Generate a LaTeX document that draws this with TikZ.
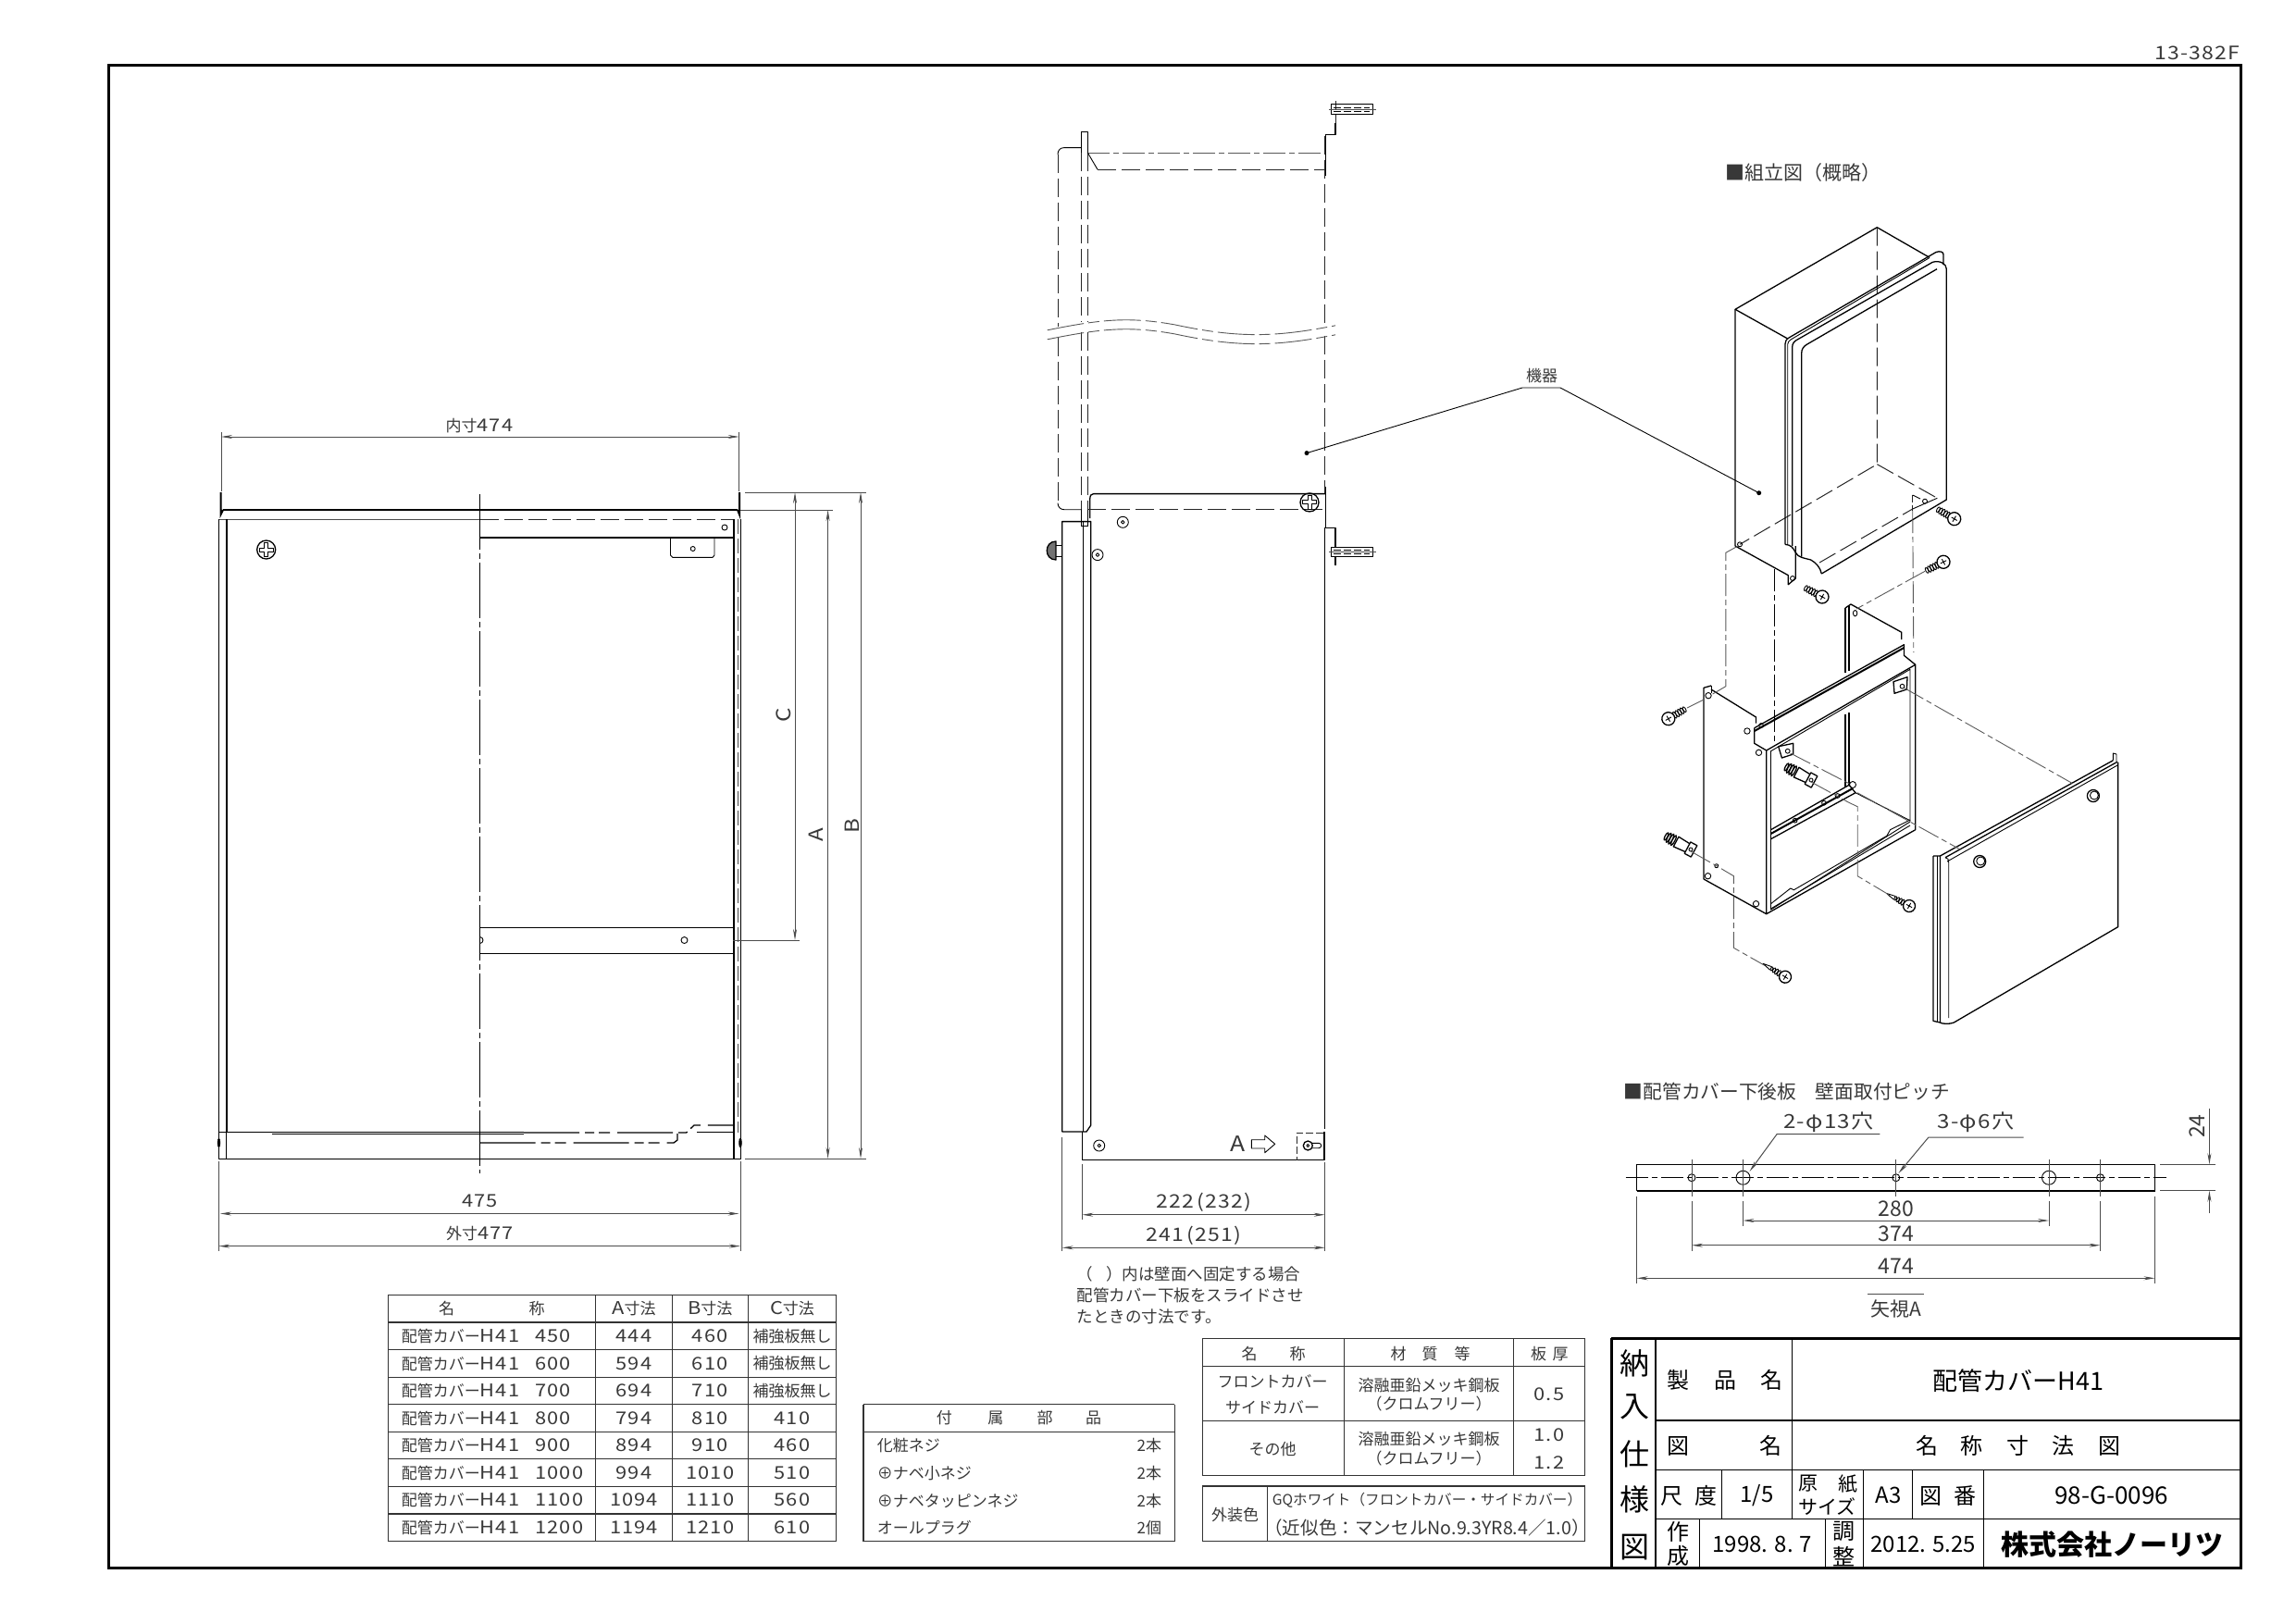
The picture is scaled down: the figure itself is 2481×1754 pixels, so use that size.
\documentclass[tikz,border=0pt]{standalone}
\usepackage{fontspec}
\setmainfont{Noto Sans CJK JP}
\newfontfamily\cadnum[FakeStretch=1.15,LetterSpace=6]{Noto Sans CJK JP}
\usepackage{xcolor}
\usetikzlibrary{arrows.meta}

\definecolor{dimgray}{gray}{0.3}
\definecolor{axisgray}{gray}{0.35}
\definecolor{textgray}{gray}{0.22}
\newcommand{\jpt}[1]{{\normalfont\fontsize{17}{20}\selectfont #1}}

\tikzset{
	partline/.style={line width=1.3pt,line join=round},
	thinline/.style={line width=0.9pt,line join=round},
	hiddenline/.style={line width=1pt,color=black!85,dash pattern=on 20pt off 6pt},
	axisline/.style={line width=0.9pt,color=axisgray,dash pattern=on 24pt off 4pt on 6pt off 4pt},
	extline/.style={line width=0.8pt,color=dimgray},
	dimline/.style={line width=0.8pt,color=dimgray,{Stealth[length=12pt,width=4pt]}-{Stealth[length=12pt,width=4pt]}},
	gridline/.style={line width=1.1pt,color=black!80},
	frameline/.style={line width=3pt,line join=miter},
	dimtext/.style={inner sep=0.75pt,color=textgray,font=\fontsize{19}{22}\selectfont\cadnum},
	jptext/.style={inner sep=0.75pt,color=textgray,font=\fontsize{17}{20}\selectfont},
	viewtext/.style={inner sep=0.75pt,color=textgray,font=\fontsize{23}{26}\selectfont},
	blocktext/.style={inner sep=0.75pt,color=black,font=\fontsize{24}{28}\selectfont},
	sidetext/.style={inner sep=0.75pt,color=black,font=\fontsize{32}{36}\selectfont},
	screwpic/.pic={
		\draw [thinline] (8,0) ellipse (1.4 and 3.8) (11,0) ellipse (1.4 and 3.8) (14,0) ellipse (1.4 and 3.8) (17,0) ellipse (1.4 and 3.6) (20,0) ellipse (1.4 and 3.2);
		\draw [partline,fill=white] (0,0) circle (7);
		\draw [thinline] (-3.5,0) -- (3.5,0) (0,-3.5) -- (0,3.5);
	},
	tappic/.pic={
		\draw [thinline] (8,0) ellipse (1.3 and 3.4) (11,0) ellipse (1.3 and 3.2) (14,0) ellipse (1.2 and 2.8) (17,0) ellipse (1.1 and 2.2);
		\draw [thinline] (18,-2) -- (28,0) -- (18,2);
		\draw [partline,fill=white] (0,0) circle (6.5);
		\draw [thinline] (-3.5,0) -- (3.5,0) (0,-3.5) -- (0,3.5);
	},
	plugpic/.pic={
		\draw [partline] (-4,-7) -- (4,-7) -- (4,7) -- (-4,7) -- cycle;
		\draw [thinline] (0,0) circle (2);
		\draw [partline] (4,-5) -- (18,-6) -- (18,6) -- (4,5);
		\draw [partline] (21,0) ellipse (1.4 and 6) (24,0) ellipse (1.4 and 6) (27,0) ellipse (1.4 and 5.5) (30,0) ellipse (1.4 and 4.5);
	},
	knobpic/.pic={
		\draw [partline] (0,0) circle (6.5);
		\draw [thinline] (1,0.5) circle (4.5);
	},
	crosspic/.pic={
		\draw [partline] (0,0) circle (10);
		\draw [thinline] (-2,-2) -- (-2,-7.5) -- (2,-7.5) -- (2,-2) -- (7.5,-2) -- (7.5,2) -- (2,2) -- (2,7.5) -- (-2,7.5) -- (-2,2) -- (-7.5,2) -- (-7.5,-2) -- cycle;
	},
	seatpic/.pic={
		\draw [thinline] (0,0) circle (6);
		\draw [thinline] (0,0) circle (1.8);
	},
}

\begin{document}
\begin{tikzpicture}[x=1pt,y=1pt,yscale=-1,xscale=1]
		\useasboundingbox (0,0) rectangle (2481,1754);
		
		%Shape: Frame
		\draw [frameline] (117,70) rectangle (2421,1694);
		\draw (2421,57) node (drawingCode) [dimtext,anchor=east,font=\fontsize{20}{22}\selectfont\cadnum] {13-382F};
		
		%Left view: outer panel
		\draw [extline] (236.4,561.5) -- (518.5,561.5);
		\draw [partline] (241,551) -- (797,551);
		\draw [line width=2pt] (238.5,532) -- (238.5,556) -- (241,551);
		\draw [line width=2pt] (799,532) -- (799,556) -- (797,551);
		\draw [thinline] (236.4,561) -- (236.4,1252) -- (800,1252) -- (800,561);
		\draw [line width=2pt] (244.6,561) -- (244.6,1224);
		\draw [thinline] (244,1224) -- (244,1252);
		\draw [line width=2pt] (792.5,561) -- (792.5,1252);
		\draw [extline,dash pattern=on 16pt off 5pt] (797,561) -- (797,1224);
		\draw [partline] (236.4,1223.3) -- (566,1223.3);
		\draw [partline] (294,1225.5) -- (566,1225.5);
		\draw [partline,dash pattern=on 60pt off 6pt on 10pt off 5pt on 12pt off 8pt] (566,1224) -- (741.6,1224) -- (750,1216) -- (792,1216);
		\draw [thinline] (753,1223.3) -- (792,1223.3);
		\draw [partline,dash pattern=on 60pt off 6pt on 10pt off 5pt on 12pt off 8pt] (518.5,1235) -- (728,1235) -- (732,1232) -- (732,1225);
		\draw [fill=black] (236.5,1235) ellipse (1.5 and 5) (800,1235) ellipse (1.5 and 5);
		\draw [hiddenline] (518.5,561) -- (792,561);
		\draw [line width=2pt] (518.5,581) -- (792,581);
		\draw [thinline] (724.5,581) -- (724.5,600) -- (727,602.4) -- (770,602.4) -- (772,600) -- (772,581);
		\draw [thinline] (748.7,593) circle (2.5) (783,570) circle (3);
		\draw [thinline] (518.5,1002) -- (792,1002) (518.5,1030) -- (792,1030);
		\draw [thinline] (739.5,1016) circle (3.5);
		\draw [thinline] (518.5,1012.5) arc (-90:90:3.5);
		\draw [axisline,color=black,dash pattern=on 60pt off 4pt on 6pt off 4pt] (518.5,534) -- (518.5,1268);
		\pic at (287.7,594) {crosspic};
		
		%Left view: dimensions
		\draw [extline] (239,467) -- (239,531) (798.6,467) -- (798.6,531);
		\draw [dimline] (239,472) -- (798.6,472);
		\draw (518,460) node (dimInner) [dimtext] {\jpt{内寸}474};
		\draw [extline] (805,532) -- (936,532) (800,551) -- (900,551) (805,1252) -- (936,1252) (792,1016) -- (864,1016);
		\draw [dimline] (859,532) -- (859,1016);
		\draw [dimline] (894.6,551) -- (894.6,1252);
		\draw [dimline] (930,532) -- (930,1252);
		\draw (847,773) node (dimC) [dimtext,rotate=90,font=\fontsize{21}{24}\selectfont\cadnum] {C};
		\draw (882,902) node (dimA) [dimtext,rotate=90,font=\fontsize{21}{24}\selectfont\cadnum] {A};
		\draw (921,893) node (dimB) [dimtext,rotate=90,font=\fontsize{21}{24}\selectfont\cadnum] {B};
		\draw [extline] (236.4,1255) -- (236.4,1352) (800,1255) -- (800,1352);
		\draw [dimline] (238,1311.5) -- (798.6,1311.5);
		\draw [dimline] (236.4,1346.6) -- (800,1346.6);
		\draw (518.5,1298) node (dimMid) [dimtext] {475};
		\draw (518.5,1333) node (dimOuter) [dimtext] {\jpt{外寸}477};
		
		%Side view: upper part
		\draw [thinline] (1168.3,165) -- (1168.3,142.5) -- (1175.3,142.5) -- (1175.3,165);
		\draw [hiddenline] (1168.3,165) -- (1168.3,348) (1175.3,165) -- (1175.3,348);
		\draw [hiddenline] (1168.3,358.6) -- (1168.3,550) (1175.3,358.6) -- (1175.3,550);
		\draw [thinline] (1168.3,550) -- (1168.3,568.6) (1175.3,550) -- (1175.3,568.6);
		\draw [thinline] (1168,159.6) -- (1150,159.6) .. controls (1146,159.6) and (1143,162) .. (1143,166.8);
		\draw [hiddenline] (1143,166.8) -- (1143,352.5) (1143,365) -- (1143,543.6);
		\draw [thinline] (1143,543.6) .. controls (1143,548) and (1146,550.7) .. (1150,550.7) -- (1168,550.7);
		\draw [axisline] (1175.3,165) -- (1431.7,165);
		\draw [thinline] (1175.3,165) -- (1186,183.2);
		\draw [hiddenline] (1186,183.2) -- (1431.7,183.2);
		\draw [hiddenline] (1431.7,147) -- (1431.7,352.5) (1431.7,363) -- (1431.7,533);
		\draw [partline] (1432.5,190) -- (1432.5,145.4) -- (1443,145.4) -- (1443,133);
		\draw [hiddenline,dash pattern=on 10pt off 4pt] (1443,133) -- (1443,106);
		\draw [thinline] (1438,112.5) rectangle (1483,123.2);
		\draw [thinline,dash pattern=on 8pt off 3pt] (1441,116) -- (1480,116) (1441,120) -- (1480,120);
		\draw [extline] (1436,117.9) -- (1487,117.9);
		
		%Side view: break lines
		\draw [axisline,dash pattern=on 40pt off 5pt on 12pt off 5pt] (1131.7,356.8) .. controls (1190,345) and (1220,342) .. (1270,351) .. controls (1340,366) and (1380,364) .. (1443,351.8);
		\draw [axisline,dash pattern=on 40pt off 5pt on 12pt off 5pt] (1131.7,366.8) .. controls (1190,355) and (1220,352) .. (1270,361) .. controls (1340,376) and (1380,374) .. (1443,361.8);
		
		%Side view: lower part
		\draw [partline] (1177.7,560) -- (1177.7,540) .. controls (1177.7,535.5) and (1179,533.6) .. (1181.7,533.6) -- (1432,533.6);
		\draw [hiddenline] (1175,550.7) -- (1431.7,550.7);
		\draw [partline] (1432.5,525.7) -- (1432.5,570.4) -- (1443,570.4) -- (1443,592);
		\draw [partline] (1443,600) -- (1443,610.7);
		\draw [thinline,fill=white] (1438,591) rectangle (1483,601.7);
		\draw [thinline,dash pattern=on 8pt off 3pt] (1441,594.5) -- (1480,594.5) (1441,598.5) -- (1480,598.5);
		\draw [extline] (1436,596.4) -- (1487,596.4);
		\pic at (1415,542.9) {crosspic};
		\pic at (1213.3,564.3) {seatpic};
		\pic at (1186,599.6) {seatpic};
		\draw [partline] (1431.7,570) -- (1431.7,1220);
		\draw [partline] (1147.7,1223) -- (1147.7,563.6) -- (1178.7,563.6) -- (1178.7,1216) -- (1174,1223) -- (1147.7,1223);
		\draw [partline] (1170.7,563.6) -- (1170.7,1223);
		\draw [thinline] (1168.3,563) rectangle (1175.3,568.6);
		\draw [thinline] (1147,589) -- (1141,589) (1147,601) -- (1141,601);
		\draw [partline,fill=black!55] (1141,585) .. controls (1128,585) and (1128,605) .. (1141,605) -- cycle;
		\draw [partline] (1169.3,1223) -- (1169.3,1253.6) -- (1431,1253.6) -- (1431,1223);
		\pic at (1187.7,1238) {seatpic};
		\draw (1337.7,1236.3) node (viewMarkA) [dimtext,font=\fontsize{23}{26}\selectfont\cadnum] {A};
		\draw [thinline] (1352.3,1231.7) -- (1366.7,1231.7) -- (1366.7,1227) -- (1377.7,1236.3) -- (1366.7,1245.7) -- (1366.7,1241) -- (1352.3,1241) -- cycle;
		\draw [hiddenline,dash pattern=on 8pt off 3pt] (1430,1224.3) -- (1401,1224.3) -- (1401,1253.6);
		\draw [partline] (1413.3,1238) circle (5);
		\draw [thinline] (1413.3,1238) circle (1.5);
		\draw [thinline] (1418,1235.3) -- (1425,1235.3) arc (-90:90:2.7) -- (1418,1240.7);
		
		%Side view: dimensions
		\draw [extline] (1169.3,1257.6) -- (1169.3,1318) (1431.7,1256) -- (1431.7,1352) (1147.7,1229) -- (1147.7,1352);
		\draw [dimline] (1169.3,1312.7) -- (1431.7,1312.7);
		\draw [dimline] (1147.7,1348.3) -- (1431.7,1348.3);
		\draw (1301,1299) node (dimDepthIn) [dimtext,font=\fontsize{20}{22}\selectfont\cadnum] {222\hspace{3pt}(232)};
		\draw (1290,1335) node (dimDepthOut) [dimtext,font=\fontsize{20}{22}\selectfont\cadnum] {241\hspace{3pt}(251)};
		\draw (1163,1377) node (noteOne) [jptext,anchor=west,font=\fontsize{17.5}{20}\selectfont] {（\hspace{14pt}）内は壁面へ固定する場合};
		\draw (1163,1400) node (noteTwo) [jptext,anchor=west,font=\fontsize{17.5}{20}\selectfont] {配管カバー下板をスライドさせ};
		\draw (1163,1423) node (noteThree) [jptext,anchor=west,font=\fontsize{17.5}{20}\selectfont] {たときの寸法です。};
		
		%Leader of the appliance
		\coordinate (kikiSide) at (1412,489.6);
		\coordinate (kikiBox) at (1900.7,532.7);
		\coordinate (kikiLeft) at (1645,419);
		\coordinate (kikiRight) at (1686,419);
		\fill (kikiSide) circle (2.5) (kikiBox) circle (2.5);
		\draw [thinline] (kikiSide) -- (kikiLeft) -- (kikiRight) -- (kikiBox);
		\draw (1666,406) node (kikiLabel) [jptext] {機器};
		
		%Exploded view: title
		\draw (1864,186.7) node (assemblyTitle) [jptext,anchor=west,font=\fontsize{21}{24}\selectfont] {■組立図（概略）};
		
		%Exploded view: appliance box
		\draw [partline] (1931.7,366) -- (1875,334.3) -- (2028.3,245.7) -- (2085,278.3);
		\draw [partline] (1875,334.3) -- (1875,590) -- (1932.3,621.7) -- (1932.3,631.7) -- (1940.3,625) -- (1940.3,590);
		\draw [hiddenline] (2028.3,245.7) -- (2028.3,501.7) -- (1880,588.3);
		\draw [hiddenline] (2028.3,501.7) -- (2093.3,538.3);
		\draw [partline] (1929,588.3) -- (1929,371.7) .. controls (1929,369) and (1930,367) .. (1933,365) -- (2092,272.5) .. controls (2096,271) and (2100,272) .. (2100,275) -- (2100,286);
		\draw [thinline] (1931.7,588) -- (1931.7,372) .. controls (1931.7,370) and (1933,368.5) .. (1935,367) -- (2085,278.5);
		\draw [partline] (1936.7,590) -- (1936.7,375) .. controls (1936.7,371) and (1939,368.5) .. (1942.7,366.7) -- (2088.3,283.3) .. controls (2096,281) and (2103.3,285) .. (2103.3,290.7) -- (2103.3,540) -- (1968.3,620);
		\draw [partline] (1946.7,601.7) -- (1946.7,381.7) .. controls (1946.7,377) and (1949,374) .. (1953.3,371.7) -- (2093,290.7);
		\draw [partline] (1929,588.3) .. controls (1935,589) and (1937,591) .. (1940,596.7) .. controls (1943,603) and (1950,603) .. (1956.7,605) .. controls (1962,608) and (1967,613) .. (1968.3,620);
		\draw [hiddenline] (1966,608) -- (2066.7,550);
		\draw [hiddenline,dash pattern=on 8pt off 3pt] (2066.7,535) -- (2066.7,552);
		\draw [thinline] (2066.7,535) -- (2075,539) (2066.7,550) -- (2093.3,538.3);
		\draw [thinline] (1937,625) circle (2.5) (1880,588.3) circle (2.5) (2080,541.7) circle (2.5);
		\pic at (1969,645) [rotate=152] {screwpic};
		\pic at (2111.7,560.7) [rotate=150] {screwpic};
		\pic at (2100,607.3) [rotate=207] {screwpic};
		
		%Exploded view: side frame
		\draw [partline] (1849,741) -- (1841,743.3) -- (1841,950) -- (1908.7,987.7) -- (2069.7,896.7) -- (2069.7,718.3) -- (1908.7,811) -- (1908.7,987.7);
		\draw [thinline] (1849,741) -- (1849,749);
		\draw [partline] (1849,745) -- (1897.5,775) -- (1897.5,781.7);
		\draw [thinline] (1913.5,811.7) -- (1913.5,983) -- (2064,888) -- (2064,723.3) -- cycle;
		\draw [partline] (1895.7,786.7) -- (2057.4,696.7) -- (2057.4,708.3) -- (2069.7,718.3);
		\draw [partline] (1895.7,786.7) -- (1895.7,803.3) -- (1908.7,811);
		\draw [line width=2pt] (1895.7,790) -- (2057.4,700);
		\draw [partline] (1994,657) -- (2000,653) -- (2054.8,683.3) -- (2054.8,691);
		\draw [partline] (1994,657) -- (1994,727) (1998,655) -- (1998,725);
		\draw [partline] (1994,772) -- (1994,850) (1998,770) -- (1998,848.3);
		\draw [thinline] (2004.6,662.7) ellipse (2.2 and 3.2);
		\draw [partline] (1913.5,896.7) -- (1998,848.3) -- (2005,856.7) -- (1913.5,906.7);
		\draw [line width=2pt] (1913.5,901) -- (2002,852);
		\draw [thinline] (1939.6,886.7) circle (2.4) (1971,867.7) circle (2.4) (1985.6,860) circle (2.4);
		\draw [thinline] (2005,856.7) -- (2064,886.7);
		\draw [thinline] (2002,848) circle (3.5);
		\draw [thinline] (1913.5,976.7) -- (1934.7,960) -- (1938.4,961.7) -- (2038.8,903.3) -- (2042.5,896.7) -- (2064,886);
		\draw [thinline] (1913.5,982) -- (2064,892);
		\draw [partline] (2046,736.7) -- (2061,731.7) -- (2060.4,745) -- (2047,749.3) -- cycle;
		\draw [thinline] (2055.5,741.7) circle (2.4);
		\draw [partline] (1921.7,806.7) -- (1937.7,803.3) -- (1937.7,815) -- (1925.4,819) -- cycle;
		\draw [thinline] (1931.7,811.7) circle (2.4);
		\draw [thinline] (1846,751.7) circle (3.2) (1887.9,790) circle (3.2) (1900.5,813.3) circle (3.2) (1845.5,946.7) circle (3.2) (1897.5,976.7) circle (3.2) (1854.8,935.7) circle (2);
		\draw [thinline] (1903,784) circle (2.4);
		\pic at (1802.8,776.7) [rotate=30] {screwpic};
		\pic at (1957,843) [rotate=152] {plugpic};
		\pic at (1827,918) [rotate=152] {plugpic};
		\pic at (1929,1055.7) [rotate=149] {tappic};
		\pic at (2063,979) [rotate=151] {tappic};
		
		%Exploded view: front cover
		\draw [partline] (2089,925) -- (2089,1103.3) -- (2096.4,1105) -- (2096.4,925) -- (2089,925);
		\draw [thinline] (2093.5,925) -- (2093.5,1104);
		\draw [partline] (2096.4,925) -- (2283.4,821.7);
		\draw [partline] (2102,926.7) -- (2287.9,823.3);
		\draw [thinline] (2104,931) -- (2288,827);
		\draw [thinline] (2102,926.7) .. controls (2105,927) and (2105.7,929) .. (2105.7,932) -- (2105.7,1100);
		\draw [partline] (2288.6,823.5) -- (2288.6,1001.7) -- (2111.3,1105) .. controls (2107,1107) and (2098,1106.5) .. (2096.4,1105);
		\draw [thinline] (2283.4,821.7) -- (2283.4,814) -- (2287,815) -- (2287,823);
		\pic at (2261.9,860) {knobpic};
		\pic at (2139.2,931) {knobpic};
		
		%Exploded view: assembly lines
		\draw [axisline] (1878,590) -- (1864.8,597.3) -- (1864.8,741.7) -- (1849,751);
		\draw [axisline,line width=1.2pt,color=black] (1917.3,615) -- (1917.3,801.7);
		\draw [axisline] (2066.7,552) -- (2067.8,705);
		\draw [axisline] (2080,617.3) -- (2006,658);
		\draw [axisline] (1823,765) -- (1841,756);
		\draw [axisline] (1827,920) -- (1854.8,935.7) -- (1873.4,946.7) -- (1873.4,1024.3) -- (1906.8,1043.3);
		\draw [axisline] (1957,845) -- (1997.9,867.3) -- (2007.2,871.7) -- (2007.2,946.7) -- (2040.7,966.7);
		\draw [axisline] (1934.7,814) -- (1998,846.7);
		\draw [axisline] (2007,856.7) -- (2116.9,917.3);
		\draw [axisline] (2057.4,743.3) -- (2239.6,846.7);
		
		%Mounting plate view
		\draw (1754,1180) node (plateTitle) [jptext,anchor=west,font=\fontsize{20.7}{24}\selectfont] {■配管カバー下後板　壁面取付ピッチ};
		\draw [thinline] (1768.6,1258.3) -- (2328.5,1258.3) -- (2328.5,1286.7) -- (1768.6,1286.7) -- cycle;
		\draw [line width=2pt] (1768.6,1286.7) -- (2328.5,1286.7);
		\draw [axisline,color=black] (1756.5,1272.7) -- (2340.6,1272.7);
		\draw [thinline] (1828,1272.7) circle (4) (2048.8,1272.7) circle (4) (2269.5,1272.7) circle (4);
		\draw [thinline] (1883.5,1272.7) ellipse (7.5 and 7.5) (2214,1272.7) ellipse (7.5 and 7.5);
		\draw [extline] (1828,1252.7) -- (1828,1293) (1828,1298) -- (1828,1351.7);
		\draw [extline] (1883.5,1252.7) -- (1883.5,1293) (1883.5,1298.3) -- (1883.5,1325);
		\draw [extline] (2048.8,1252.7) -- (2048.8,1293);
		\draw [extline] (2214,1252.7) -- (2214,1293) (2214,1298.3) -- (2214,1325);
		\draw [extline] (2269.5,1252.7) -- (2269.5,1293) (2269.5,1298) -- (2269.5,1351.7);
		\draw [extline] (1768.6,1292.7) -- (1768.6,1386.7) (2328.5,1292.7) -- (2328.5,1386.7);
		\draw [dimline] (1883.5,1319) -- (2214,1319);
		\draw [dimline] (1828,1345.7) -- (2269.5,1345.7);
		\draw [dimline] (1768.6,1381.3) -- (2328.5,1381.3);
		\draw (2048.8,1306) node (pitchInner) [viewtext] {280};
		\draw (2048.8,1333) node (pitchOuter) [viewtext] {374};
		\draw (2048.8,1368.3) node (plateWidth) [viewtext] {474};
		\draw [extline] (2334,1258.3) -- (2393.5,1258.3) (2334,1286.7) -- (2393.5,1286.7);
		\draw [extline,-{Stealth[length=12pt,width=4pt]}] (2387.4,1198.3) -- (2387.4,1258.3);
		\draw [extline,-{Stealth[length=12pt,width=4pt]}] (2387.4,1310.7) -- (2387.4,1286.7);
		\draw (2374,1217) node (plateHeight) [viewtext,rotate=90] {24};
		\draw [extline] (2018.4,1398.3) -- (2079,1398.3);
		\draw (2048.8,1414) node (viewLabel) [viewtext,font=\fontsize{21}{24}\selectfont] {矢視A};
		\coordinate (bigHole) at (1890.5,1266);
		\coordinate (smallHole) at (2051.4,1268);
		\coordinate (bigTurn) at (1920,1225.7);
		\coordinate (bigEnd) at (2031.4,1225.7);
		\coordinate (smallTurn) at (2083.9,1229);
		\coordinate (smallEnd) at (2186.7,1229);
		\draw [extline,line width=1pt,{Stealth[length=12pt,width=4pt]}-] (bigHole) -- (bigTurn) -- (bigEnd);
		\draw [extline,line width=1pt,{Stealth[length=12pt,width=4pt]}-] (smallHole) -- (smallTurn) -- (smallEnd);
		\draw (1976,1213) node (bigHoleText) [viewtext,font=\fontsize{21}{24}\selectfont\cadnum] {2-φ13穴};
		\draw (2135,1213) node (smallHoleText) [viewtext,font=\fontsize{21}{24}\selectfont\cadnum] {3-φ6穴};
		
		%Table: sizes
		\draw [gridline] (419.3,1399.3) rectangle (903.3,1665.3);
		\draw [gridline] (643.3,1399.3) -- (643.3,1665.3) (726.3,1399.3) -- (726.3,1665.3) (808.7,1399.3) -- (808.7,1665.3);
		\draw [gridline] (419.3,1429) -- (903.3,1429) (419.3,1458.7) -- (903.3,1458.7) (419.3,1488.3) -- (903.3,1488.3) (419.3,1517.7) -- (903.3,1517.7) (419.3,1547.3) -- (903.3,1547.3) (419.3,1576.7) -- (903.3,1576.7) (419.3,1606.3) -- (903.3,1606.3) (419.3,1636) -- (903.3,1636);
		\draw (482.7,1414.3) node (headName) [jptext] {名};
		\draw (580,1414.3) node (headTitle) [jptext] {称};
		\draw (685,1414.3) node (headA) [dimtext] {A\jpt{寸法}};
		\draw (767.3,1414.3) node (headB) [dimtext] {B\jpt{寸法}};
		\draw (856,1414.3) node (headC) [dimtext] {C\jpt{寸法}};
		\draw (433,1443.8) node (name450) [dimtext,anchor=west] {\jpt{配管カバー}H41\hspace{17pt}450};
		\draw (685,1443.8) node (a450) [dimtext] {444};
		\draw (767.3,1443.8) node (b450) [dimtext] {460};
		\draw (856,1443.8) node (c450) [jptext] {補強板無し};
		\draw (433,1473.5) node (name600) [dimtext,anchor=west] {\jpt{配管カバー}H41\hspace{17pt}600};
		\draw (685,1473.5) node (a600) [dimtext] {594};
		\draw (767.3,1473.5) node (b600) [dimtext] {610};
		\draw (856,1473.5) node (c600) [jptext] {補強板無し};
		\draw (433,1503) node (name700) [dimtext,anchor=west] {\jpt{配管カバー}H41\hspace{17pt}700};
		\draw (685,1503) node (a700) [dimtext] {694};
		\draw (767.3,1503) node (b700) [dimtext] {710};
		\draw (856,1503) node (c700) [jptext] {補強板無し};
		\draw (433,1532.5) node (name800) [dimtext,anchor=west] {\jpt{配管カバー}H41\hspace{17pt}800};
		\draw (685,1532.5) node (a800) [dimtext] {794};
		\draw (767.3,1532.5) node (b800) [dimtext] {810};
		\draw (856,1532.5) node (c800) [dimtext] {410};
		\draw (433,1562) node (name900) [dimtext,anchor=west] {\jpt{配管カバー}H41\hspace{17pt}900};
		\draw (685,1562) node (a900) [dimtext] {894};
		\draw (767.3,1562) node (b900) [dimtext] {910};
		\draw (856,1562) node (c900) [dimtext] {460};
		\draw (433,1591.5) node (name1000) [dimtext,anchor=west] {\jpt{配管カバー}H41\hspace{17pt}1000};
		\draw (685,1591.5) node (a1000) [dimtext] {994};
		\draw (767.3,1591.5) node (b1000) [dimtext] {1010};
		\draw (856,1591.5) node (c1000) [dimtext] {510};
		\draw (433,1621) node (name1100) [dimtext,anchor=west] {\jpt{配管カバー}H41\hspace{17pt}1100};
		\draw (685,1621) node (a1100) [dimtext] {1094};
		\draw (767.3,1621) node (b1100) [dimtext] {1110};
		\draw (856,1621) node (c1100) [dimtext] {560};
		\draw (433,1650.5) node (name1200) [dimtext,anchor=west] {\jpt{配管カバー}H41\hspace{17pt}1200};
		\draw (685,1650.5) node (a1200) [dimtext] {1194};
		\draw (767.3,1650.5) node (b1200) [dimtext] {1210};
		\draw (856,1650.5) node (c1200) [dimtext] {610};
		
		%Table: accessories
		\draw [gridline] (933,1517.7) -- (1269.4,1517.7) (933,1547.3) -- (1269.4,1547.3) (933,1665.7) -- (1269.4,1665.7);
		\draw [gridline] (933,1517.7) -- (933,1665.7) (1269.4,1517.7) -- (1269.4,1665.7);
		\draw (1020.4,1532) node (partsOne) [jptext] {付};
		\draw (1075.9,1532) node (partsTwo) [jptext] {属};
		\draw (1129,1532) node (partsThree) [jptext] {部};
		\draw (1181.5,1532) node (partsFour) [jptext] {品};
		\draw (947,1562.3) node (partCosmetic) [jptext,anchor=west] {化粧ネジ};
		\draw (947,1592.3) node (partPan) [jptext,anchor=west] {⊕ナベ小ネジ};
		\draw (947,1621.7) node (partTap) [jptext,anchor=west] {⊕ナベタッピンネジ};
		\draw (947,1650.7) node (partPlug) [jptext,anchor=west] {オールプラグ};
		\draw (1256,1562.3) node (qtyCosmetic) [jptext,anchor=east] {2本};
		\draw (1256,1592.3) node (qtyPan) [jptext,anchor=east] {2本};
		\draw (1256,1621.7) node (qtyTap) [jptext,anchor=east] {2本};
		\draw (1256,1650.7) node (qtyPlug) [jptext,anchor=east] {2個};
		
		%Table: materials
		\draw [gridline] (1299.2,1446.7) rectangle (1712.4,1594.3);
		\draw [gridline] (1452.4,1446.7) -- (1452.4,1594.3) (1635.5,1446.7) -- (1635.5,1594.3);
		\draw [gridline] (1299.2,1476.3) -- (1712.4,1476.3) (1299.2,1535.3) -- (1712.4,1535.3);
		\draw (1350,1463) node (matName) [jptext] {名};
		\draw (1402,1463) node (matTitle) [jptext] {称};
		\draw (1511,1463) node (matOne) [jptext] {材};
		\draw (1545,1463) node (matTwo) [jptext] {質};
		\draw (1580,1463) node (matThree) [jptext] {等};
		\draw (1662.7,1463) node (thickOne) [jptext] {板};
		\draw (1686,1463) node (thickTwo) [jptext] {厚};
		\draw (1375,1492.7) node (frontCover) [jptext] {フロントカバー};
		\draw (1375,1521) node (sideCover) [jptext] {サイドカバー};
		\draw (1544,1496.7) node (steelOne) [jptext] {溶融亜鉛メッキ鋼板};
		\draw (1544,1517) node (chromeOne) [jptext] {（クロムフリー）};
		\draw (1674,1506.7) node (thickCover) [dimtext] {0.5};
		\draw (1375,1566) node (otherName) [jptext] {その他};
		\draw (1544,1555) node (steelTwo) [jptext] {溶融亜鉛メッキ鋼板};
		\draw (1544,1576) node (chromeTwo) [jptext] {（クロムフリー）};
		\draw (1674,1551) node (thickOther) [dimtext] {1.0};
		\draw (1674,1581) node (thickAlt) [dimtext] {1.2};
		
		%Table: colour
		\draw [gridline] (1299.2,1606) rectangle (1712.4,1665.7);
		\draw [gridline] (1369.8,1606) -- (1369.8,1665.7);
		\draw (1334.7,1636.7) node (colourHead) [jptext] {外装色};
		\draw (1542,1621.7) node (colourOne) [jptext,font=\fontsize{15.6}{20}\selectfont] {GQホワイト（フロントカバー・サイドカバー）};
		\draw (1542,1650.7) node (colourTwo) [jptext,font=\fontsize{19.6}{22}\selectfont] {（近似色：マンセルNo.9.3YR8.4／1.0）};
		
		%Title block
		\draw [frameline] (1741,1446) -- (2421,1446) (1741,1446) -- (1741,1694);
		\draw [thinline,line width=1.3pt] (1789,1446) -- (1789,1694);
		\draw [thinline,line width=1.3pt] (1789,1535) -- (2421,1535) (1789,1588.3) -- (2421,1588.3) (1789,1641.3) -- (2421,1641.3);
		\draw [thinline,line width=1.3pt] (1936.5,1446) -- (1936.5,1641.3);
		\draw [thinline,line width=1.3pt] (1860.8,1588.3) -- (1860.8,1641.3) (2013.6,1588.3) -- (2013.6,1641.3) (2066.4,1588.3) -- (2066.4,1641.3) (2143.6,1588.3) -- (2143.6,1694);
		\draw [thinline,line width=1.3pt] (1836.4,1641.3) -- (1836.4,1694) (1972.3,1641.3) -- (1972.3,1694) (2013.6,1641.3) -- (2013.6,1694);
		\draw (1766,1473) node (specOne) [sidetext] {納};
		\draw (1766,1520) node (specTwo) [sidetext] {入};
		\draw (1766,1571.7) node (specThree) [sidetext] {仕};
		\draw (1766,1620) node (specFour) [sidetext] {様};
		\draw (1766,1671.7) node (specFive) [sidetext] {図};
		\draw (1813.5,1491.7) node (prodOne) [blocktext] {製};
		\draw (1864,1491.7) node (prodTwo) [blocktext] {品};
		\draw (1914.5,1491.7) node (prodThree) [blocktext] {名};
		\draw (2180.8,1491.7) node (prodName) [blocktext,font=\fontsize{27}{30}\selectfont] {配管カバーH41};
		\draw (1813.5,1562.7) node (figOne) [blocktext] {図};
		\draw (1913.6,1562.7) node (figTwo) [blocktext] {名};
		\draw (2082,1562.7) node (figNameOne) [blocktext] {名};
		\draw (2130,1562.7) node (figNameTwo) [blocktext] {称};
		\draw (2180.8,1562.7) node (figNameThree) [blocktext] {寸};
		\draw (2229,1562.7) node (figNameFour) [blocktext] {法};
		\draw (2279.5,1562.7) node (figNameFive) [blocktext] {図};
		\draw (1806.6,1616.7) node (scaleOne) [blocktext] {尺};
		\draw (1843.3,1616.7) node (scaleTwo) [blocktext] {度};
		\draw (1898.4,1616) node (scaleVal) [blocktext] {1/5};
		\draw (1953.5,1603.3) node (sheetOne) [blocktext,font=\fontsize{21}{24}\selectfont] {原};
		\draw (1997,1603.3) node (sheetTwo) [blocktext,font=\fontsize{21}{24}\selectfont] {紙};
		\draw (1974.5,1628) node (sheetThree) [blocktext,font=\fontsize{21}{24}\selectfont] {サイズ};
		\draw (2040.7,1616) node (sheetVal) [blocktext] {A3};
		\draw (2086.6,1616.7) node (numOne) [blocktext] {図};
		\draw (2123.4,1616.7) node (numTwo) [blocktext] {番};
		\draw (2281.8,1616) node (numVal) [blocktext,font=\fontsize{26}{30}\selectfont] {98-G-0096};
		\draw (1813.5,1655) node (madeOne) [blocktext] {作};
		\draw (1813.5,1681.7) node (madeTwo) [blocktext] {成};
		\draw (1904.4,1669.3) node (madeDate) [blocktext] {1998. 8. 7};
		\draw (1992.5,1655) node (revOne) [blocktext] {調};
		\draw (1992.5,1681.7) node (revTwo) [blocktext] {整};
		\draw (2078.4,1669.3) node (revDate) [blocktext] {2012. 5.25};
		\draw (2282.7,1669.3) node (company) [blocktext,font=\fontsize{30}{34}\selectfont\bfseries] {株式会社ノーリツ};
		
	\end{tikzpicture}
\end{document}
